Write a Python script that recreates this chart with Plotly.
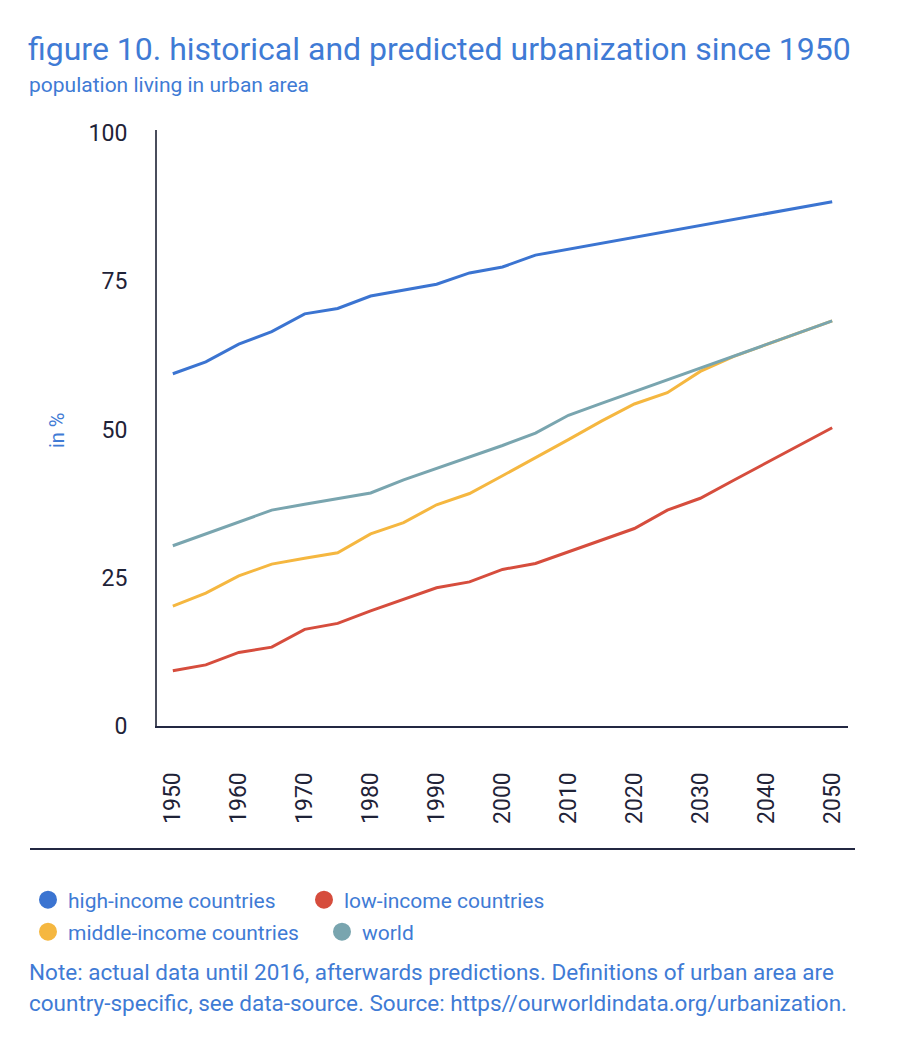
import plotly.graph_objects as go

years = list(range(1950, 2051, 5))
high_income = [59.4, 61.4, 64.4, 66.5, 69.5, 70.4, 72.5, 73.5, 74.5, 76.4, 77.4,
               79.4, 80.4, 81.4, 82.4, 83.4, 84.4, 85.4, 86.4, 87.4, 88.4]
low_income = [9.3, 10.3, 12.4, 13.3, 16.3, 17.3, 19.4, 21.4, 23.3, 24.3, 26.4,
              27.4, 29.4, 31.4, 33.3, 36.4, 38.4, 41.4, 44.4, 47.4, 50.3]
middle_income = [20.2, 22.4, 25.3, 27.3, 28.3, 29.2, 32.4, 34.3, 37.3, 39.2, 42.2,
                 45.2, 48.3, 51.4, 54.3, 56.2, 59.8, 62.3, 64.3, 66.3, 68.3]
world = [30.4, 32.4, 34.4, 36.4, 37.4, 38.4, 39.3, 41.5, 43.4, 45.4, 47.3,
         49.4, 52.4, 54.4, 56.4, 58.4, 60.3, 62.3, 64.3, 66.3, 68.3]

series_names = ["high-income countries", "low-income countries",
                "middle-income countries", "world"]
series_values = [high_income, low_income, middle_income, world]
series_colors = ["#3b74d1", "#d64d3d", "#f5b740", "#79a5af"]
series_legend = ["legend", "legend", "legend2", "legend2"]

y_ticks = [0, 25, 50, 75, 100]
x_ticks = list(range(1950, 2051, 10))

TITLE_BLUE = "#3f7bd5"
DARK = "#1f2338"
FONT = "Roboto, sans-serif"

W, H = 916, 1052
L, R, T, B = 157, 68, 130, 326
PW, PH = W - L - R, H - T - B


def px_x(px):
    return (px - L) / PW


def px_y(py):
    return (H - B - py) / PH


fig = go.Figure()
for name, vals, col in zip(series_names, series_values, series_colors):
    fig.add_trace(go.Scatter(x=years, y=vals, mode="lines", name=name,
                             line=dict(color=col, width=3),
                             showlegend=False, hoverinfo="x+y+name"))
for name, col, lg in zip(series_names, series_colors, series_legend):
    fig.add_trace(go.Scatter(x=[None], y=[None], mode="markers", name=name,
                             marker=dict(color=col, size=16, symbol="circle",
                                         line=dict(color=col, width=2)),
                             legend=lg, showlegend=True))

fig.update_layout(
    width=W, height=H, autosize=False,
    margin=dict(l=L, r=R, t=T, b=B),
    paper_bgcolor="white", plot_bgcolor="white",
    font=dict(family=FONT, color=TITLE_BLUE),
    title=dict(text="figure 10. historical and predicted urbanization since 1950",
               xref="container", x=28 / W, xanchor="left",
               yref="container", y=1 - 49 / H, yanchor="middle",
               font=dict(family=FONT, size=32, color=TITLE_BLUE)),
    xaxis=dict(range=[1947.6, 2052.4], tickvals=x_ticks, ticktext=[str(v) for v in x_ticks],
               tickangle=-90, showgrid=False, zeroline=False,
               showline=True, linecolor="#232842", linewidth=2,
               ticks="", ticklabelstandoff=35,
               tickfont=dict(family=FONT, size=23, color=DARK)),
    yaxis=dict(range=[0, 100.5], tickvals=y_ticks, showgrid=False, zeroline=False,
               showline=True, linecolor="#4a4d5c", linewidth=2,
               ticks="", ticklabelstandoff=23,
               tickfont=dict(family=FONT, size=23, color=DARK)),
    legend=dict(orientation="h", xref="container", yref="container",
                x=28 / W, y=1 - 900 / H, xanchor="left", yanchor="middle",
                entrywidth=231, entrywidthmode="pixels",
                font=dict(family=FONT, size=21, color=TITLE_BLUE),
                bgcolor="rgba(0,0,0,0)"),
    legend2=dict(orientation="h", xref="container", yref="container",
                 x=28 / W, y=1 - 932 / H, xanchor="left", yanchor="middle",
                 entrywidth=249, entrywidthmode="pixels",
                 font=dict(family=FONT, size=21, color=TITLE_BLUE),
                 bgcolor="rgba(0,0,0,0)"),
    showlegend=True,
)

fig.add_shape(type="line", xref="paper", yref="paper",
              x0=px_x(30), x1=px_x(855), y0=px_y(849), y1=px_y(849),
              line=dict(color="#232842", width=2))

annos = [
    dict(text="population living in urban area", x=px_x(27), y=px_y(85), size=21),
    dict(text="Note: actual data until 2016, afterwards predictions. Definitions of urban area are",
         x=px_x(27), y=px_y(972), size=22.5),
    dict(text="country-specific, see data-source. Source: https//ourworldindata.org/urbanization.",
         x=px_x(27), y=px_y(1003), size=22.5),
]
for a in annos:
    fig.add_annotation(text=a["text"], xref="paper", yref="paper", x=a["x"], y=a["y"],
                       xanchor="left", yanchor="middle", showarrow=False,
                       font=dict(family=FONT, size=a["size"], color=TITLE_BLUE))

fig.add_annotation(text="in %", xref="paper", yref="paper", x=px_x(57), y=px_y(430),
                   xanchor="center", yanchor="middle", textangle=-90, showarrow=False,
                   font=dict(family=FONT, size=20, color=TITLE_BLUE))

fig.write_html("out.html", config={"displayModeBar": False},
               post_script="document.body.style.margin='0px';")
